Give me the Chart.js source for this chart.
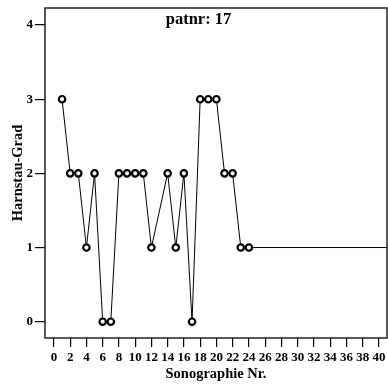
<!DOCTYPE html>
<html>
<head>
<meta charset="utf-8">
<script src="https://cdn.jsdelivr.net/npm/chart.js@4"></script>
<style>
  html, body { margin: 0; padding: 0; background: #fff; }
  #wrap { width: 388px; height: 387px; }
</style>
</head>
<body>
<div id="wrap"><canvas id="c" width="388" height="387"></canvas></div>
<script>
// ---- data ----
const sonoNr   = [1, 2, 3, 4, 5, 6, 7, 8, 9, 10, 11, 12, 14, 15, 16, 17, 18, 19, 20, 21, 22, 23, 24];
const grad     = [3, 2, 2, 1, 2, 0, 0, 2, 2, 2, 2, 1, 2, 1, 2, 0, 3, 3, 3, 2, 2, 1, 1];
const xTicks   = [0, 2, 4, 6, 8, 10, 12, 14, 16, 18, 20, 22, 24, 26, 28, 30, 32, 34, 36, 38, 40];
const yTicks   = [0, 1, 2, 3, 4];
const titleText = 'patnr: 17';
const xTitle = 'Sonographie Nr.';
const yTitle = 'Harnstau-Grad';
const xRange = [-1.1, 41];
const yRange = [-0.22, 4.23];

const FONT = '"Liberation Serif", "Times New Roman", serif';

const points = sonoNr.map((x, i) => ({ x: x, y: grad[i] }));
const last = points[points.length - 1];
const tail = [{ x: last.x, y: last.y }, { x: xRange[1], y: last.y }];

const frame = {
  id: 'frame',
  afterDatasetsDraw(chart) {
    const a = chart.chartArea, ctx = chart.ctx;
    ctx.save();
    ctx.strokeStyle = '#222';
    ctx.lineWidth = 1.5;
    ctx.strokeRect(a.left, a.top, a.right - a.left, a.bottom - a.top);
    ctx.fillStyle = '#000';
    ctx.font = 'bold 16.5px ' + FONT;
    ctx.textAlign = 'center';
    ctx.textBaseline = 'alphabetic';
    ctx.fillText(titleText, 198.5, 24);
    ctx.restore();
  }
};

new Chart(document.getElementById('c'), {
  type: 'scatter',
  data: {
    datasets: [
      {
        data: points,
        showLine: true,
        borderColor: '#000',
        borderWidth: 1,
        pointRadius: 3.2,
        pointBorderWidth: 2.2,
        pointBackgroundColor: '#fff',
        pointBorderColor: '#000',
        order: 0
      },
      {
        data: tail,
        showLine: true,
        borderColor: '#000',
        borderWidth: 1,
        pointRadius: 0,
        order: 1
      }
    ]
  },
  options: {
    responsive: false,
    animation: false,
    devicePixelRatio: 1,
    layout: { autoPadding: false, padding: { left: 0, top: 8, right: 1, bottom: 0 } },
    plugins: { legend: { display: false }, tooltip: { enabled: false }, title: { display: false } },
    scales: {
      x: {
        type: 'linear',
        min: xRange[0], max: xRange[1],
        afterBuildTicks(s) { s.ticks = xTicks.map(v => ({ value: v })); },
        afterFit(s) { s.height = 49; s.paddingLeft = 0; s.paddingRight = 0; },
        border: { display: false },
        grid: { display: true, drawOnChartArea: false, drawTicks: true, tickLength: 9, color: '#000', lineWidth: 1.2 },
        ticks: { color: '#000', font: { family: FONT, size: 13, weight: 'bold' }, padding: 3, maxRotation: 0, autoSkip: false },
        title: { display: true, text: xTitle, color: '#000', font: { family: FONT, size: 14.5, weight: 'bold' }, padding: { top: 2, bottom: 4 } }
      },
      y: {
        type: 'linear',
        min: yRange[0], max: yRange[1],
        afterBuildTicks(s) { s.ticks = yTicks.map(v => ({ value: v })); },
        afterFit(s) { s.width = 45; s.paddingTop = 0; s.paddingBottom = 0; },
        border: { display: false },
        grid: { display: true, drawOnChartArea: false, drawTicks: true, tickLength: 10, color: '#000', lineWidth: 1.2 },
        ticks: { color: '#000', font: { family: FONT, size: 13, weight: 'bold' }, padding: 2 },
        title: { display: true, text: yTitle, color: '#000', font: { family: FONT, size: 14.5, weight: 'bold' }, padding: { top: 10, bottom: 0 } }
      }
    }
  },
  plugins: [frame]
});
</script>
</body>
</html>
